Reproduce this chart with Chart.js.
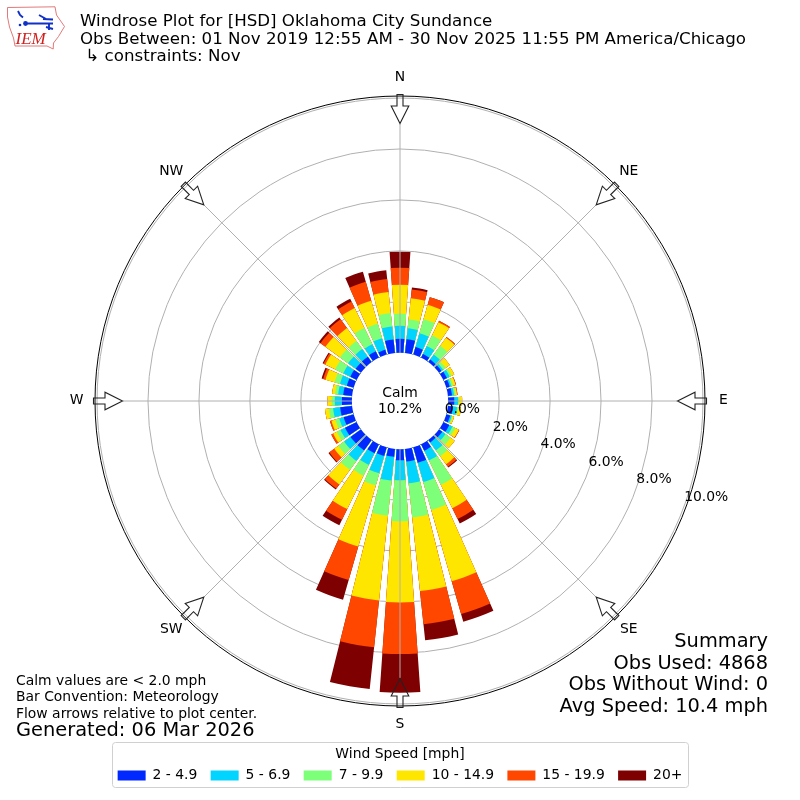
<!DOCTYPE html>
<html>
<head>
<meta charset="utf-8">
<title>Windrose Plot</title>
<script src="https://cdn.jsdelivr.net/npm/chart.js@4/dist/chart.umd.min.js"></script>
<style>
html,body{margin:0;padding:0;background:#fff;width:800px;height:800px;overflow:hidden}
#wrap{position:relative;width:800px;height:800px}
canvas{position:absolute;left:0;top:0}
#logo{position:absolute;left:0;top:0;width:70px;height:54px;z-index:2}
</style>
</head>
<body>
<div id="wrap">
<canvas id="c" width="800" height="800"></canvas>
<svg id="logo" viewBox="0 0 70 54" xmlns="http://www.w3.org/2000/svg">
  <path d="M7.5 7.5 L55 6.8 L56.5 15 L64.5 26.5 L58.5 36.5 L53.5 43 L53.2 49 L47 46 L15 46 L13.5 38 L9.5 27 L7.5 17 Z" fill="none" stroke="#e06a6a" stroke-width="0.9"/>
  <path d="M25 23.5 H53 M43 19 L53 19.5 M18 11 L20 15 L23 17.5 M39 15 L47 19.5 M49 23 V30 M46 27 L53 29" stroke="#1030c8" stroke-width="1.9" fill="none"/>
  <circle cx="25.5" cy="23.5" r="2.4" fill="#1030c8"/><circle cx="20" cy="25" r="1.3" fill="#1030c8"/>
  <text x="15.5" y="44" font-family="Liberation Serif" font-style="italic" font-size="17" fill="#d02020">IEM</text>
</svg>
</div>
<script>
const directions = [0,10,20,30,40,50,60,70,80,90,100,110,120,130,140,150,160,170,180,190,200,210,220,230,240,250,260,270,280,290,300,310,320,330,340,350];
const speedLabels = ['2 - 4.9','5 - 6.9','7 - 9.9','10 - 14.9','15 - 19.9','20+'];
const speedColors = ['#0028ff','#00d4ff','#7dff7a','#ffe600','#ff4700','#7f0000'];
const speed2to5 = [.55,.55,.31,.16,.12,.12,.16,.14,.16,.24,.20,.16,.26,.16,.12,.28,.63,.50,.44,.31,.35,.39,.51,.51,.51,.41,.47,.39,.35,.28,.28,.26,.26,.28,.20,.54];
const speed5to7 = [.51,.43,.57,.35,.24,.08,.12,.06,.08,.15,.16,.06,.14,.16,.39,.43,.79,.86,.78,.94,.71,.51,.51,.31,.20,.18,.28,.28,.20,.28,.31,.37,.37,.31,.47,.51];
const speed7to10 = [.47,.35,.57,.47,.43,.12,.08,.08,.06,.03,.04,.04,.12,.24,.28,1.06,1.14,1.34,1.61,1.38,.50,.47,.43,.28,.16,.16,.16,.12,.12,.22,.35,.39,.39,.71,.59,.53];
const speed10to15 = [1.14,.83,.59,.57,.39,.20,.12,.10,.06,.13,.12,.06,.16,.20,.39,1.02,2.91,2.91,3.19,3.35,2.49,1.46,.71,.20,.16,.16,.16,.16,.12,.37,.43,.71,.63,.87,.94,.83];
const speed15to20 = [.67,.35,.31,.06,.04,0,0,.02,.02,0,0,0,.02,0,.12,.47,1.34,1.31,2.02,1.85,1.37,.47,.20,.24,.08,.06,0,0,0,.10,.08,.24,.43,.28,.78,.51];
const speed20up = [.63,.08,0,0,0,0,0,0,0,0,0,0,0,0,.04,.20,.31,.63,1.52,1.65,.80,.24,.04,.04,0,0,0,0,0,.06,.04,.08,.08,.12,.41,.35];
const speedSeries = [speed2to5,speed5to7,speed7to10,speed10to15,speed15to20,speed20up];
const tickValues = [0,2,4,6,8,10];
const compass = [['N',0],['NE',45],['E',90],['SE',135],['S',180],['SW',225],['W',270],['NW',315]];
const titleLines = ['Windrose Plot for [HSD] Oklahoma City Sundance','Obs Between: 01 Nov 2019 12:55 AM - 30 Nov 2025 11:55 PM America/Chicago',' \u21b3 constraints: Nov'];
const calmText = ['Calm','10.2%'];
const noteLines = ['Calm values are < 2.0 mph','Bar Convention: Meteorology','Flow arrows relative to plot center.'];
const generatedText = 'Generated: 06 Mar 2026';
const summaryLines = ['Summary','Obs Used: 4868','Obs Without Wind: 0','Avg Speed: 10.4 mph'];

const rMin = -1.89, rMax = 10.08, barDeg = 8, gapDeg = 2;
const FONT = '"DejaVu Sans"';
Chart.defaults.font.family = FONT;
Chart.defaults.color = '#000';

// each direction takes one bar slot and one empty gap slot; stacks are layered as running totals
const slotLabels = directions.flatMap(d => [d + '\u00b0', '']);
const running = directions.map(() => 0);
const datasets = speedSeries.map((vals, s) => {
  const data = [];
  vals.forEach((v, i) => { running[i] += v; data.push(running[i], rMin); });
  return {
    label: speedLabels[s], data,
    backgroundColor: speedColors[s], borderWidth: 0,
    angle: ctx => (ctx.index % 2 === 0 ? barDeg : gapDeg)
  };
});

const deco = {
  id: 'deco',
  beforeDraw(chart) {
    const ctx = chart.ctx, hb = chart.legend.legendHitBoxes;
    const l = hb[0].left - 6, r = hb[hb.length - 1].left + hb[hb.length - 1].width + 5;
    ctx.save();
    ctx.strokeStyle = '#d0d0d0'; ctx.lineWidth = 1;
    ctx.beginPath(); ctx.roundRect(Math.round(l) + .5, 742.5, Math.round(r - l), 45, 3); ctx.stroke();
    ctx.restore();
  },
  afterDatasetsDraw(chart) {
    const s = chart.scales.r, ctx = chart.ctx;
    ctx.save();
    ctx.fillStyle = '#fff';
    ctx.beginPath(); ctx.arc(s.xCenter, s.yCenter, s.getDistanceFromCenterForValue(0), 0, 2 * Math.PI); ctx.fill();
    ctx.restore();
  },
  afterDraw(chart) {
    const s = chart.scales.r, ctx = chart.ctx, cx = s.xCenter, cy = s.yCenter;
    const R = s.getDistanceFromCenterForValue(rMax), r0 = s.getDistanceFromCenterForValue(0);
    ctx.save();
    compass.forEach(([name, deg]) => {
      const t = deg * Math.PI / 180, sn = Math.sin(t), cs = Math.cos(t);
      ctx.strokeStyle = '#b0b0b0'; ctx.lineWidth = 1;
      ctx.beginPath();
      ctx.moveTo(cx + r0 * sn, cy - r0 * cs);
      ctx.lineTo(cx + (R - 28) * sn, cy - (R - 28) * cs);
      ctx.stroke();
      // flow arrow
      ctx.save();
      ctx.translate(cx, cy); ctx.rotate(t);
      ctx.strokeStyle = '#222'; ctx.lineWidth = 1.1;
      ctx.beginPath();
      ctx.moveTo(-3, -R - 1.5); ctx.lineTo(3, -R - 1.5); ctx.lineTo(3, -R + 10);
      ctx.lineTo(8.8, -R + 10); ctx.lineTo(0, -R + 27.5); ctx.lineTo(-8.8, -R + 10);
      ctx.lineTo(-3, -R + 10); ctx.closePath();
      ctx.stroke();
      ctx.restore();
      // direction label
      ctx.fillStyle = '#000'; ctx.font = '13.9px ' + FONT;
      ctx.textAlign = 'center'; ctx.textBaseline = 'middle';
      ctx.fillText(name, cx + (R + 18.5) * sn, cy - (R + 18.5) * cs - 0.5);
    });
    // radial tick labels
    ctx.font = '13.9px ' + FONT; ctx.textAlign = 'left'; ctx.textBaseline = 'middle'; ctx.fillStyle = '#000';
    const la = 20 * Math.PI / 180;
    tickValues.forEach(v => {
      const d = s.getDistanceFromCenterForValue(v);
      ctx.fillText(v.toFixed(1) + '%', cx + d * Math.cos(la) - 0.5, cy + d * Math.sin(la) - 7.7);
    });
    // calm text
    ctx.textAlign = 'center';
    ctx.fillText(calmText[0], cx, cy - 8);
    ctx.fillText(calmText[1], cx, cy + 8);
    // notes
    ctx.textAlign = 'left';
    noteLines.forEach((t, i) => ctx.fillText(t, 16, 681 + i * 16.5));
    ctx.font = '19.4px ' + FONT;
    ctx.fillText(generatedText, 16, 731);
    ctx.textAlign = 'right';
    summaryLines.forEach((t, i) => ctx.fillText(t, 768, 642 + i * 21.7));
    // title block
    ctx.textAlign = 'left';
    ctx.font = '16.67px ' + FONT;
    titleLines.forEach((t, i) => {
      ctx.letterSpacing = i === 1 ? '0.01px' : '0px';
      ctx.fillText(t, 80, 21.75 + i * 17.5);
    });
    ctx.letterSpacing = '0px';
    ctx.restore();
  }
};

new Chart(document.getElementById('c'), {
  type: 'polarArea',
  data: { labels: slotLabels, datasets },
  plugins: [deco],
  options: {
    responsive: false, animation: false,
    layout: { padding: { top: 96, left: 80, right: 80, bottom: 7.65 } },
    scales: {
      r: {
        z: 1, min: rMin, max: rMax, startAngle: -barDeg / 2,
        afterBuildTicks: sc => { sc.ticks = [rMin].concat(tickValues, rMax).map(value => ({ value })); },
        ticks: { display: false },
        angleLines: { display: false },
        pointLabels: { display: false },
        grid: {
          circular: true, lineWidth: 1,
          color: c => (c.tick && (c.tick.value === 0 || c.tick.value === rMax)) ? '#000' : '#b0b0b0'
        }
      }
    },
    plugins: {
      tooltip: { enabled: false },
      title: { display: false },
      legend: {
        display: true, position: 'bottom', onClick: null,
        title: { display: true, text: 'Wind Speed [mph]', font: { size: 13.9, lineHeight: 1.2 }, padding: { top: 40.65, bottom: -9 } },
        labels: {
          boxWidth: 28, boxHeight: 10, padding: 13.3, font: { size: 13.9, lineHeight: 1.2 },
          generateLabels: chart => chart.data.datasets.map((d, i) => ({
            text: d.label, fillStyle: d.backgroundColor, strokeStyle: d.backgroundColor,
            lineWidth: 0, hidden: false, datasetIndex: i
          }))
        }
      }
    }
  }
});
</script>
</body>
</html>
